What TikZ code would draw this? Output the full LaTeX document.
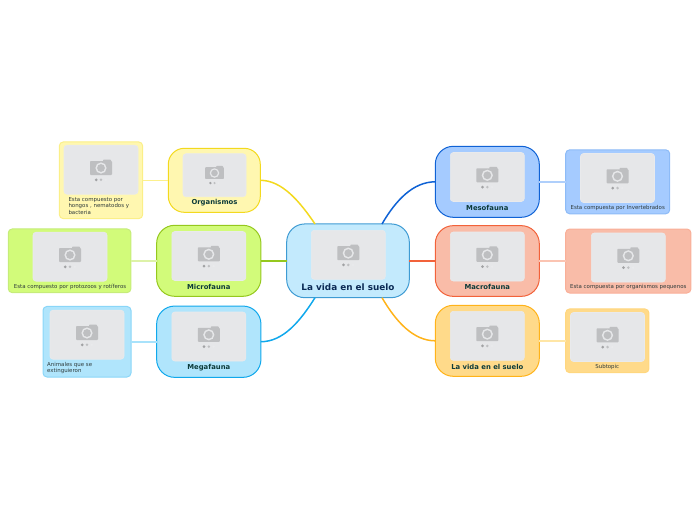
\documentclass[tikz,border=0pt]{standalone}
\usepackage{fontspec}
\usetikzlibrary{calc}
\setmainfont{DejaVu Sans}
\definecolor{txtmain}{HTML}{0B2A55}
\definecolor{txtbranch}{HTML}{0D3B3A}
\definecolor{txtsub}{HTML}{2E3A3A}
\definecolor{imgfill}{HTML}{E6E7E9}
\definecolor{imgedge}{HTML}{E9EAEC}
\definecolor{camgray}{HTML}{BEBFC1}
\definecolor{cfill}{HTML}{C3EAFD}\definecolor{cline}{HTML}{3E9BD3}
\definecolor{ofill}{HTML}{FFF7B0}\definecolor{oline}{HTML}{F3D91E}\definecolor{osub}{HTML}{FBEF88}
\definecolor{mifill}{HTML}{D2FB7A}\definecolor{miline}{HTML}{95C81E}\definecolor{misub}{HTML}{C6EC7A}
\definecolor{mgfill}{HTML}{B0E5FC}\definecolor{mgline}{HTML}{10A8EC}\definecolor{mgsub}{HTML}{8AD6F8}
\definecolor{msfill}{HTML}{A5CBFF}\definecolor{msline}{HTML}{0F62D5}\definecolor{mssub}{HTML}{8DBBF7}
\definecolor{mafill}{HTML}{F9BCA8}\definecolor{maline}{HTML}{F2623A}\definecolor{masub}{HTML}{F9AF98}
\definecolor{lafill}{HTML}{FFDA8A}\definecolor{laline}{HTML}{FFB31A}\definecolor{lasub}{HTML}{FFD77F}
\definecolor{milink}{HTML}{DDF2A8}\definecolor{mglink}{HTML}{A8E2FB}\definecolor{mslink}{HTML}{AFCFFB}
\definecolor{malink}{HTML}{FBC4B2}\definecolor{lalink}{HTML}{FFE6A6}\definecolor{olink}{HTML}{FCF08C}
\tikzset{
  bigbox/.style n args={4}{draw=#1,fill=#2,line width=1pt,rounded corners=#3,inner sep=0pt,outer sep=0pt,minimum width=#4},
  subbox/.style n args={3}{draw=#1,fill=#2,line width=1pt,rounded corners=4pt,inner sep=0pt,outer sep=0pt,minimum width=#3},
  photo/.style n args={2}{fill=imgfill,draw=imgedge,line width=.6pt,rounded corners=3pt,inner sep=0pt,outer sep=0pt,minimum width=#1,minimum height=#2},
  title/.style={font=\bfseries\fontsize{8.85}{10}\selectfont,text=txtmain,inner sep=0pt},
  branch/.style={font=\bfseries\fontsize{6.85}{8}\selectfont,text=txtbranch,inner sep=0pt},
  note/.style={font=\fontsize{5.45}{6.5}\selectfont,text=txtsub,inner sep=0pt},
  link/.style={line width=1.5pt},
  sublink/.style={line width=1.6pt},
  camera/.pic={
    \fill[camgray,rounded corners=.8pt] (-11,-6.5) rectangle (11,7.5);
    \fill[camgray,rounded corners=.8pt] (2,-8) rectangle (10,-5);
    \fill[imgfill] (0,0.5) circle (5.6);
    \fill[camgray] (0,0.5) circle (3.9);
    \fill[camgray!85!black] (-4.8,12.3) circle (1.5);
    \fill[camgray] (0,12.3) circle (1.4);
    \fill[imgedge] (4.8,12.3) circle (1.3);
  }
}
\newcommand{\photoat}[3]{\node[photo={74pt}{49pt}] (#1) at (#2,#3) {}; \pic at (#2,#3-2.2) {camera};}
\begin{document}
\begin{tikzpicture}[x=1pt,y=-1pt]
\useasboundingbox (0,0) rectangle (696,520);
% boxes
\node[bigbox={cline}{cfill}{18pt}{122.6pt},minimum height=73.7pt] (c) at (348,260.8) {};
\node[bigbox={oline}{ofill}{16pt}{92pt},minimum height=64pt] (org) at (214.3,180.3) {};
\node[bigbox={miline}{mifill}{18pt}{104.3pt},minimum height=71pt] (mic) at (208.8,260.8) {};
\node[bigbox={mgline}{mgfill}{18pt}{104.3pt},minimum height=71.3pt] (meg) at (208.8,341.7) {};
\node[bigbox={msline}{msfill}{18pt}{104pt},minimum height=71pt] (mes) at (487.3,181.8) {};
\node[bigbox={maline}{mafill}{18pt}{104pt},minimum height=70.7pt] (mac) at (487.3,261) {};
\node[bigbox={laline}{lafill}{18pt}{104pt},minimum height=71pt] (vid) at (487.3,340.8) {};
\node[subbox={osub}{ofill}{83.4pt},minimum height=76.7pt] (sorg) at (101,180.3) {};
\node[subbox={misub}{mifill}{122.7pt},minimum height=63.7pt] (smic) at (69.6,260.8) {};
\node[subbox={mgsub}{mgfill}{88pt},minimum height=70.6pt] (smeg) at (87,341.7) {};
\node[subbox={mssub}{msfill}{104pt},minimum height=64pt] (smes) at (617.7,181.8) {};
\node[subbox={masub}{mafill}{125.3pt},minimum height=64pt] (smac) at (628.3,261) {};
\node[subbox={lasub}{lafill}{83.3pt},minimum height=63.7pt] (svid) at (607.3,340.8) {};
% link end coordinates on the central box
\coordinate (ctl) at ($(c.north)+(-33,0)$);
\coordinate (ctr) at ($(c.north)+(34,0)$);
\coordinate (cbl) at ($(c.south)+(-33,0)$);
\coordinate (cbr) at ($(c.south)+(34,0)$);
\coordinate (cer) at (c.east |- mac.west);
% connectors
\draw[link,draw=oline] (ctl) .. controls ($(ctl)+(-15,-22)$) and ($(org.east)+(22,0)$) .. (org.east);
\draw[link,draw=miline] (c.west) -- (mic.east);
\draw[link,draw=mgline] (cbl) .. controls ($(cbl)+(-15,24)$) and ($(meg.east)+(22,0)$) .. (meg.east);
\draw[link,draw=msline] (ctr) .. controls ($(ctr)+(14,-24)$) and ($(mes.west)+(-22,0)$) .. (mes.west);
\draw[link,line width=2pt,draw=maline] (cer) -- (mac.west);
\draw[link,draw=laline] (cbr) .. controls ($(cbr)+(14,24)$) and ($(vid.west)+(-22,0)$) .. (vid.west);
\draw[sublink,draw=olink] (org.west) -- (sorg.east);
\draw[sublink,draw=milink] (mic.west) -- (smic.east);
\draw[sublink,draw=mglink] (meg.west) -- (smeg.east);
\draw[sublink,draw=mslink] (mes.east) -- (smes.west);
\draw[sublink,line width=2pt,draw=malink] (mac.east) -- (smac.west);
\draw[sublink,draw=lalink] (vid.east) -- (svid.west);
% photos
\photoat{pc}{348.3}{254.8}
\node[photo={63pt}{43pt}] (porg) at (214.5,175.2) {}; \pic[scale=.85] at (214.5,172.6) {camera};
\photoat{pmic}{208.8}{256}
\photoat{pmeg}{208.8}{336.5}
\photoat{pmes}{487.3}{177}
\photoat{pmac}{487.3}{256.5}
\photoat{pvid}{487.3}{335.8}
\photoat{psorg}{101}{169.7}
\photoat{psmic}{70}{256.7}
\photoat{psmeg}{87}{334.7}
\photoat{psmes}{617.5}{178}
\photoat{psmac}{628.3}{257.5}
\photoat{psvid}{607.5}{337}
% labels
\node[title] (tc) at (348,286.9) {La vida en el suelo};
\node[branch] (torg) at (214.5,202.7) {Organismos};
\node[branch] (tmic) at (208.8,286.7) {Microfauna};
\node[branch] (tmeg) at (208.8,367.5) {Megafauna};
\node[branch] (tmes) at (487.3,207.5) {Mesofauna};
\node[branch] (tmac) at (487.3,287.3) {Macrofauna};
\node[branch] (tvid) at (487.3,366.5) {La vida en el suelo};
\node[note,anchor=north west,align=left] (nsorg) at (68.3,197.2) {Esta compuesto por\\hongos , nematodos y\\bacteria};
\node[note] (nsmic) at (70,287) {Esta compuesto por protozoos y rotíferos};
\node[note,anchor=north west,align=left] (nsmeg) at (47,362) {Animales que se\\extinguieron};
\node[note] (nsmes) at (617.7,208) {Esta compuesta por Invertebrados};
\node[note] (nsmac) at (628.3,287.3) {Esta compuesta por organismos pequenos};
\node[note] (nsvid) at (607.3,367) {Subtopic};
\end{tikzpicture}
\end{document}
